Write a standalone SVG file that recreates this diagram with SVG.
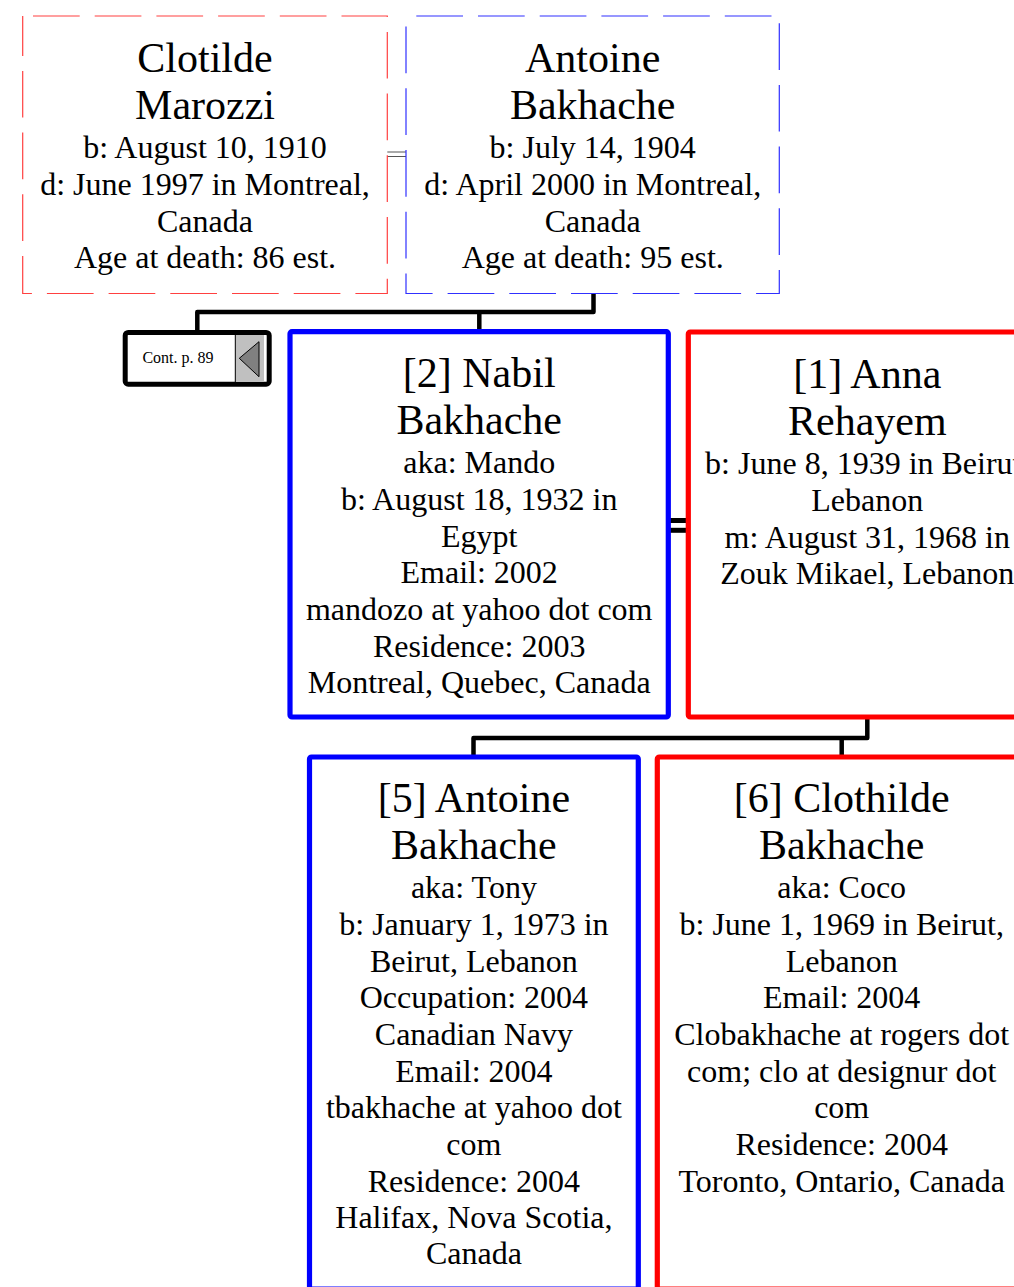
<svg xmlns="http://www.w3.org/2000/svg" width="1014" height="1287" viewBox="0 0 1014 1287">
<style>
text{font-family:"Liberation Serif","Times New Roman",serif;fill:#000;text-anchor:middle}
.nm{font-size:42px}
.dt{font-size:32px}
.cont{font-size:16px}
.dashR{fill:#fff;stroke:#ff4040;stroke-width:1.2;stroke-dasharray:46.7 15;stroke-dashoffset:51.4}
.dashB{fill:#fff;stroke:#3030ff;stroke-width:1.2;stroke-dasharray:46.7 15;stroke-dashoffset:51.4}
.bm{fill:#fff;stroke:#0000ff;stroke-width:5.2}
.bf{fill:#fff;stroke:#ff0000;stroke-width:5.2}
.ln{fill:none;stroke:#000;stroke-width:4.5;stroke-linejoin:round}
.thin{fill:none;stroke:#555;stroke-width:1}
</style>
<rect width="1014" height="1287" fill="#fff"/>
<g id="connectors">
<path class="ln" d="M593.5,293 V312 H197.3 V330"/>
<path class="ln" d="M479.3,312 V330"/>
<path class="ln" d="M867.3,717 V738 H473.5 V757"/>
<path class="ln" d="M841.7,738 V757"/>
<line class="thin" x1="387" y1="152" x2="406" y2="152"/>
<line class="thin" x1="387" y1="156.5" x2="406" y2="156.5"/>
<line x1="670" y1="520.5" x2="687" y2="520.5" stroke="#000" stroke-width="5"/>
<line x1="670" y1="530.3" x2="687" y2="530.3" stroke="#000" stroke-width="5"/>
</g>
<g id="clotilde">
<rect class="dashR" x="22.7" y="16" width="364.6" height="277.5"/>
<text class="nm"><tspan x="205" y="72">Clotilde</tspan><tspan x="205" y="119.3">Marozzi</tspan></text>
<text class="dt"><tspan x="205" y="158.3">b: August 10, 1910</tspan><tspan x="205" y="195">d: June 1997 in Montreal,</tspan><tspan x="205" y="231.7">Canada</tspan><tspan x="205" y="268.3">Age at death: 86 est.</tspan></text>
</g>
<g id="antoine-sr">
<rect class="dashB" x="406" y="16" width="373.3" height="277.5"/>
<text class="nm"><tspan x="592.7" y="72">Antoine</tspan><tspan x="592.7" y="119.3">Bakhache</tspan></text>
<text class="dt"><tspan x="592.7" y="158.3">b: July 14, 1904</tspan><tspan x="592.7" y="195">d: April 2000 in Montreal,</tspan><tspan x="592.7" y="231.7">Canada</tspan><tspan x="592.7" y="268.3">Age at death: 95 est.</tspan></text>
</g>
<g id="cont">
<rect x="125.2" y="332.5" width="144" height="51.7" rx="3" fill="#fff" stroke="#000" stroke-width="5"/>
<rect x="235" y="335" width="29" height="47" fill="#c0c0c0" stroke="none"/>
<line x1="235.3" y1="335" x2="235.3" y2="382" stroke="#000" stroke-width="1"/>
<polygon points="239.3,358.3 259,341.7 259,376.7" fill="#808080" stroke="#000" stroke-width="1"/>
<text class="cont" x="178" y="363.3">Cont. p. 89</text>
</g>
<g id="nabil">
<rect class="bm" x="290" y="331.7" width="378.3" height="385.3" rx="2"/>
<text class="nm"><tspan x="479.2" y="386.7">[2] Nabil</tspan><tspan x="479.2" y="433.5">Bakhache</tspan></text>
<text class="dt"><tspan x="479.2" y="473.3">aka: Mando</tspan><tspan x="479.2" y="510">b: August 18, 1932 in</tspan><tspan x="479.2" y="546.6">Egypt</tspan><tspan x="479.2" y="583.3">Email: 2002</tspan><tspan x="479.2" y="620">mandozo at yahoo dot com</tspan><tspan x="479.2" y="656.6">Residence: 2003</tspan><tspan x="479.2" y="693.2">Montreal, Quebec, Canada</tspan></text>
</g>
<g id="anna">
<rect class="bf" x="688.3" y="332" width="358" height="385" rx="2"/>
<text class="nm"><tspan x="867.3" y="388">[1] Anna</tspan><tspan x="867.3" y="435">Rehayem</tspan></text>
<text class="dt"><tspan x="867.3" y="474">b: June 8, 1939 in Beirut,</tspan><tspan x="867.3" y="511">Lebanon</tspan><tspan x="867.3" y="547.7">m: August 31, 1968 in</tspan><tspan x="867.3" y="584.3">Zouk Mikael, Lebanon</tspan></text>
</g>
<g id="antoine-jr">
<rect class="bm" x="309.5" y="757" width="328.8" height="532" rx="2"/>
<text class="nm"><tspan x="473.9" y="811.7">[5] Antoine</tspan><tspan x="473.9" y="858.5">Bakhache</tspan></text>
<text class="dt"><tspan x="473.9" y="898.3">aka: Tony</tspan><tspan x="473.9" y="935">b: January 1, 1973 in</tspan><tspan x="473.9" y="971.7">Beirut, Lebanon</tspan><tspan x="473.9" y="1008.3">Occupation: 2004</tspan><tspan x="473.9" y="1045">Canadian Navy</tspan><tspan x="473.9" y="1081.7">Email: 2004</tspan><tspan x="473.9" y="1118.3">tbakhache at yahoo dot</tspan><tspan x="473.9" y="1155">com</tspan><tspan x="473.9" y="1191.7">Residence: 2004</tspan><tspan x="473.9" y="1228.3">Halifax, Nova Scotia,</tspan><tspan x="473.9" y="1264">Canada</tspan></text>
</g>
<g id="clothilde">
<rect class="bf" x="657.3" y="757" width="368.8" height="532" rx="2"/>
<text class="nm"><tspan x="841.7" y="811.7">[6] Clothilde</tspan><tspan x="841.7" y="858.5">Bakhache</tspan></text>
<text class="dt"><tspan x="841.7" y="898.3">aka: Coco</tspan><tspan x="841.7" y="935">b: June 1, 1969 in Beirut,</tspan><tspan x="841.7" y="971.7">Lebanon</tspan><tspan x="841.7" y="1008.3">Email: 2004</tspan><tspan x="841.7" y="1045">Clobakhache at rogers dot</tspan><tspan x="841.7" y="1081.7">com; clo at designur dot</tspan><tspan x="841.7" y="1118.3">com</tspan><tspan x="841.7" y="1155">Residence: 2004</tspan><tspan x="841.7" y="1191.7">Toronto, Ontario, Canada</tspan></text>
</g>
</svg>
